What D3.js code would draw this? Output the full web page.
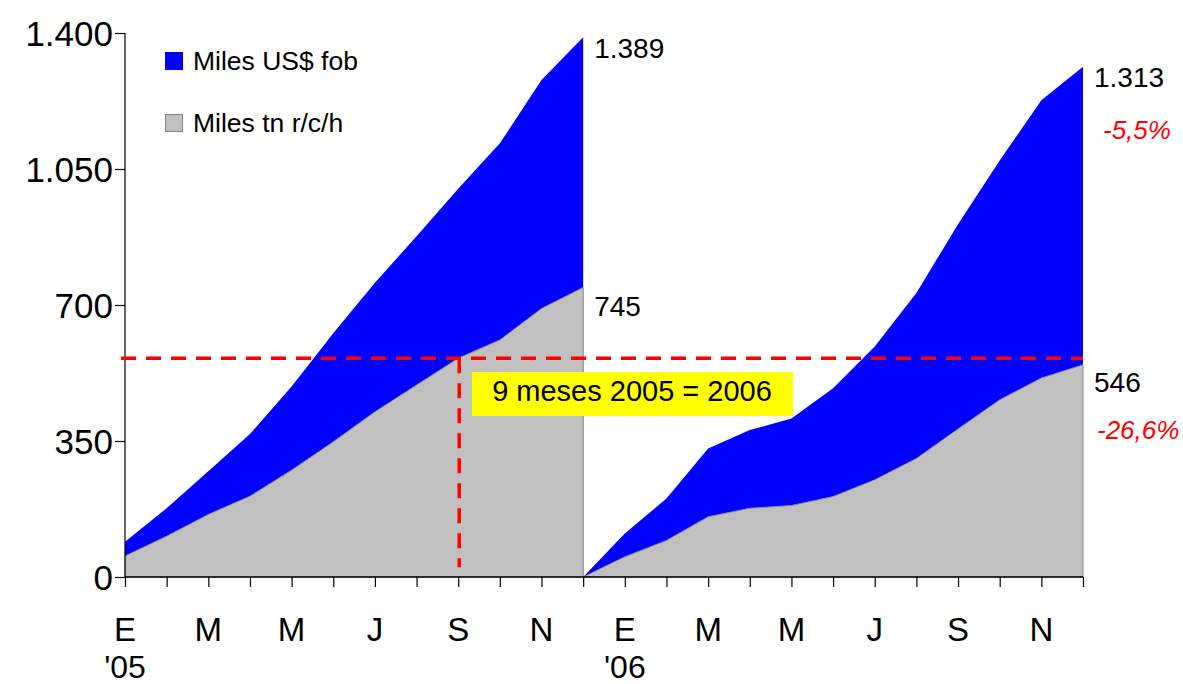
<!DOCTYPE html>
<html>
<head>
<meta charset="utf-8">
<script src="https://cdn.jsdelivr.net/npm/d3@7"></script>
<style>
  html, body { margin: 0; padding: 0; background: #fff; }
  svg { display: block; font-family: "Liberation Sans", Arial, sans-serif; }
</style>
</head>
<body>
<svg id="chart" width="1183" height="684"></svg>
<script>
// ---- data ----
const monthLetters = ["E","F","M","A","M","J","J","A","S","O","N","D"];
const yearLabels = ["'05", "'06"];
const usd2005 = [91, 177, 272, 368, 490, 627, 757, 877, 999, 1116, 1279, 1389];
const tn2005  = [54, 105, 161, 208, 275, 348, 425, 494, 563, 610, 691, 745];
const usd2006 = [112, 202, 331, 378, 408, 486, 593, 731, 908, 1072, 1227, 1313];
const tn2006  = [52, 94, 155, 177, 184, 207, 250, 305, 381, 456, 512, 546];
const yTicks = [0, 350, 700, 1050, 1400];
const refValue = 563;          // 9 months 2005 tn level
const refMonthIndex = 8;       // S'05
const changeLabels = { usd: "-5,5%", tn: "-26,6%" };
const legendItems = [
  { label: "Miles US$ fob", color: "#0000FF", stroke: "#0000FF" },
  { label: "Miles tn r/c/h", color: "#C0C0C0", stroke: "#808080" }
];
const noteText = "9 meses 2005 = 2006";

// ---- setup ----
const loc = d3.formatLocale({ decimal: ",", thousands: ".", grouping: [3], currency: ["", ""] });
const fmt = loc.format(",d");

const svg = d3.select("#chart");
const x = d3.scaleLinear().domain([0, 23]).range([125, 1083]);
const y = d3.scaleLinear().domain([0, 1400]).range([577, 33]);

// series points
const pts2005usd = usd2005.map((v, i) => [i, v]);
const pts2005tn  = tn2005.map((v, i) => [i, v]);
const pts2006usd = [[11, 0]].concat(usd2006.map((v, i) => [i + 12, v]));
const pts2006tn  = [[11, 0]].concat(tn2006.map((v, i) => [i + 12, v]));

const area = d3.area().x(d => x(d[0])).y0(y(0)).y1(d => y(d[1]));

// blue areas
[pts2005usd, pts2006usd].forEach(p => {
  svg.append("path").attr("d", area(p)).attr("fill", "#0000FF").attr("stroke", "none");
});
// gray areas
[pts2005tn, pts2006tn].forEach(p => {
  svg.append("path").attr("d", area(p)).attr("fill", "#C0C0C0")
    .attr("stroke", "#8a8a8a").attr("stroke-width", 1);
});

// axes
const yAxis = d3.axisLeft(y).tickValues(yTicks).tickSize(10).tickFormat("");
const gy = svg.append("g").attr("transform", `translate(${x(0)},0)`).call(yAxis);
gy.select(".domain").attr("stroke", "#000").attr("stroke-width", 1.2).attr("d", `M-0,${y(1400)}V${y(0)}`);
gy.selectAll(".tick line").attr("stroke", "#000").attr("stroke-width", 1.2);

const xAxis = d3.axisBottom(x).tickValues(d3.range(0, 24)).tickSize(10).tickFormat("");
const gx = svg.append("g").attr("transform", `translate(0,${y(0)})`).call(xAxis);
gx.select(".domain").attr("stroke", "#000").attr("stroke-width", 1.5).attr("d", `M${x(0)},0H${x(23)}`);
gx.selectAll(".tick line").attr("stroke", "#000").attr("stroke-width", 1.2);

// y tick labels
svg.append("g").selectAll("text").data(yTicks).join("text")
  .attr("x", 113).attr("y", d => y(d) + 12.5)
  .attr("text-anchor", "end").attr("font-size", 35).attr("fill", "#000")
  .text(d => fmt(d));

// x labels
const xLabelIdx = d3.range(0, 24).filter(i => i % 2 === 0);
svg.append("g").selectAll("text").data(xLabelIdx).join("text")
  .attr("x", d => x(d)).attr("y", 641)
  .attr("text-anchor", "middle").attr("font-size", 33).attr("fill", "#000")
  .text(d => monthLetters[d % 12]);
svg.append("g").selectAll("text").data(yearLabels).join("text")
  .attr("x", (d, i) => x(i * 12)).attr("y", 678)
  .attr("text-anchor", "middle").attr("font-size", 32).attr("fill", "#000")
  .text(d => d);

// reference dashed lines
svg.append("line")
  .attr("x1", 121).attr("x2", x(23))
  .attr("y1", y(refValue)).attr("y2", y(refValue))
  .attr("stroke", "#FF0000").attr("stroke-width", 3.5).attr("stroke-dasharray", "15,10");
svg.append("line")
  .attr("x1", x(refMonthIndex) + 1).attr("x2", x(refMonthIndex) + 1)
  .attr("y1", y(refValue)).attr("y2", y(25))
  .attr("stroke", "#FF0000").attr("stroke-width", 3.5).attr("stroke-dasharray", "15,10");

// note box
svg.append("rect").attr("x", 472).attr("y", 372).attr("width", 321).attr("height", 44).attr("fill", "#FFFF00");
svg.append("text").attr("x", 632).attr("y", 401).attr("text-anchor", "middle")
  .attr("font-size", 29).attr("fill", "#000").text(noteText);

// end value labels
const endLabels = [
  { idx: 11, v: usd2005[11], dy: 21 },
  { idx: 11, v: tn2005[11], dy: 28 },
  { idx: 23, v: usd2006[11], dy: 20 },
  { idx: 23, v: tn2006[11], dy: 27 }
];
svg.append("g").selectAll("text").data(endLabels).join("text")
  .attr("x", d => x(d.idx) + 11).attr("y", d => y(d.v) + d.dy)
  .attr("font-size", 28).attr("fill", "#000")
  .text(d => fmt(d.v));

// change labels
svg.append("text").attr("x", 1103).attr("y", 139).attr("font-size", 26)
  .attr("font-style", "italic").attr("fill", "#FF0000").text(changeLabels.usd);
svg.append("text").attr("x", 1097).attr("y", 439).attr("font-size", 26)
  .attr("font-style", "italic").attr("fill", "#FF0000").text(changeLabels.tn);

// legend
const lg = svg.append("g");
legendItems.forEach((it, i) => {
  const yy = 52 + i * 62;
  lg.append("rect").attr("x", 165.5).attr("y", yy + 0.5).attr("width", 17).attr("height", 17)
    .attr("fill", it.color).attr("stroke", it.stroke).attr("stroke-width", 1);
  lg.append("text").attr("x", 193).attr("y", yy + 18).attr("font-size", 26.5)
    .attr("fill", "#000").text(it.label);
});
</script>
</body>
</html>
